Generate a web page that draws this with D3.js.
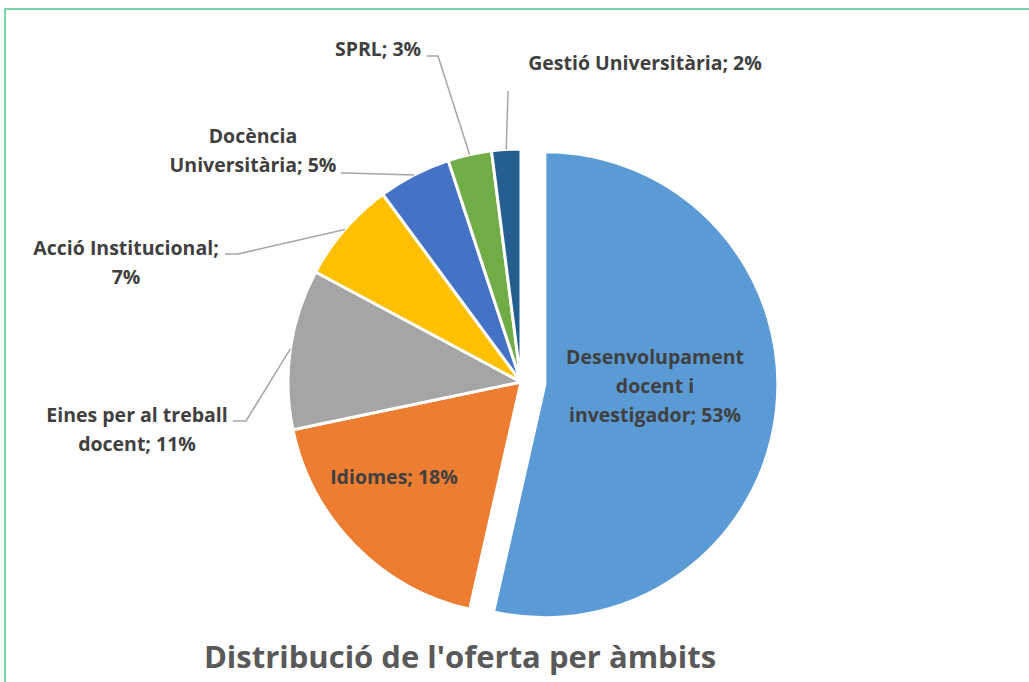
<!DOCTYPE html>
<html>
<head>
<meta charset="utf-8">
<script src="https://cdn.jsdelivr.net/npm/d3@7"></script>
<style>
  body { margin: 0; background: #fff; }
  svg { display: block; font-family: "Open Sans", Lato, sans-serif; }
</style>
</head>
<body>
<svg id="chart" width="1029" height="682"></svg>
<script>
// Training offer by area (percent of courses)
const categories = [
  "Desenvolupament docent i investigador",
  "Idiomes",
  "Eines per al treball docent",
  "Acció Institucional",
  "Docència Universitària",
  "SPRL",
  "Gestió Universitària"
];
const shares = [53, 18, 11, 7, 5, 3, 2];
const colors = ["#5B9BD5", "#ED7D31", "#A5A5A5", "#FFC000", "#4472C4", "#70AD47", "#255E91"];
const chartTitle = "Distribució de l'oferta per àmbits";

// Label placement: words per line, centre x, first baseline y, leader-line start points
const labelLayout = [
  { words: [1, 2, 2], x: 655, y: 364, leader: null },
  { words: [2],       x: 394, y: 484, leader: null },
  { words: [4, 2],    x: 137, y: 422, leader: [[233, 421], [246, 421]] },
  { words: [2, 1],    x: 126, y: 255, leader: [[225, 254], [238, 254]] },
  { words: [1, 2],    x: 253, y: 143, leader: [[341, 173], [346, 173]] },
  { words: [2],       x: 378, y: 56,  leader: [[427, 56], [438, 56]] },
  { words: [3],       x: 645, y: 70,  leader: [[508, 91]] }
];

const W = 1029, H = 682;
const cx = 521, cy = 382, radius = 233, explode = 24;
const lineHeight = 29;

const svg = d3.select("#chart");

// frame
svg.append("path")
  .attr("d", `M5,${H} L5,9 L${W},9`)
  .attr("fill", "none")
  .attr("stroke", "#7DD3A6")
  .attr("stroke-width", 2);

const data = categories.map((name, i) => ({ name, value: shares[i], color: colors[i], i }));

const pie = d3.pie().sort(null).value(d => d.value);
const arcs = pie(data);

const arc = d3.arc().innerRadius(0).outerRadius(radius);
const edgeArc = d3.arc().innerRadius(radius).outerRadius(radius);

const g = svg.append("g").attr("transform", `translate(${cx},${cy})`);

g.selectAll("path.slice")
  .data(arcs)
  .join("path")
  .attr("class", "slice")
  .attr("d", arc)
  .attr("fill", d => d.data.color)
  .attr("stroke", "#fff")
  .attr("stroke-width", 3)
  .attr("stroke-linejoin", "round")
  .attr("transform", d => {
    if (d.index !== 0) return null;
    const mid = (d.startAngle + d.endAngle) / 2;
    return `translate(${explode * Math.sin(mid)},${-explode * Math.cos(mid)})`;
  });

// leader lines
arcs.forEach((d, i) => {
  const lay = labelLayout[i];
  if (!lay.leader) return;
  const [ex, ey] = edgeArc.centroid(d);
  const pts = lay.leader.concat([[cx + ex, cy + ey]]);
  svg.append("path")
    .attr("d", d3.line()(pts))
    .attr("fill", "none")
    .attr("stroke", "#A6A6A6")
    .attr("stroke-width", 1.5);
});

// labels
arcs.forEach((d, i) => {
  const lay = labelLayout[i];
  const words = `${d.data.name}; ${d.data.value}%`.split(" ");
  const lines = [];
  let k = 0;
  lay.words.forEach(n => { lines.push(words.slice(k, k + n).join(" ")); k += n; });
  const t = svg.append("text")
    .attr("text-anchor", "middle")
    .attr("font-size", 19.5)
    .attr("font-weight", 700)
    .attr("fill", "#404040");
  lines.forEach((ln, j) => {
    t.append("tspan").attr("x", lay.x).attr("y", lay.y + j * lineHeight).text(ln);
  });
});

// title
svg.append("text")
  .attr("x", 460)
  .attr("y", 668)
  .attr("text-anchor", "middle")
  .attr("font-size", 31)
  .attr("font-weight", 700)
  .attr("fill", "#595959")
  .text(chartTitle);
</script>
</body>
</html>
